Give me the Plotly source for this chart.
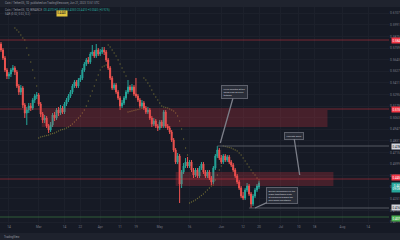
import plotly.graph_objects as go
import pandas as pd

# ---------------- data (daily candles) ----------------
open_ = [0.580,0.574,0.566,0.554,0.548,0.550,0.554,0.556,0.552,0.538,
0.532,0.536,0.519,0.511,0.514,0.518,0.516,0.524,0.528,0.529,
0.520,0.510,0.504,0.506,0.498,0.494,0.499,0.509,0.506,0.514,
0.511,0.516,0.512,0.520,0.524,0.528,0.532,0.538,0.542,0.538,
0.544,0.546,0.554,0.560,0.564,0.562,0.570,0.572,0.568,0.574,
0.570,0.572,0.574,0.572,0.564,0.556,0.546,0.536,0.539,0.532,
0.526,0.518,0.521,0.526,0.532,0.537,0.534,0.537,0.530,0.528,
0.524,0.518,0.521,0.516,0.512,0.514,0.506,0.500,0.503,0.498,
0.496,0.502,0.498,0.512,0.498,0.496,0.492,0.484,0.474,0.462,
0.468,0.440,0.452,0.458,0.462,0.458,0.462,0.454,0.449,0.454,
0.448,0.456,0.460,0.452,0.448,0.452,0.446,0.442,0.456,0.468,
0.474,0.466,0.462,0.468,0.464,0.467,0.462,0.459,0.454,0.448,
0.442,0.436,0.428,0.426,0.434,0.438,0.430,0.420,0.428,0.434,
0.437]
high = [0.582,0.576,0.568,0.556,0.552,0.556,0.559,0.558,0.554,0.540,
0.539,0.538,0.521,0.517,0.521,0.521,0.526,0.530,0.532,0.531,
0.522,0.512,0.509,0.508,0.500,0.502,0.511,0.512,0.516,0.517,
0.519,0.518,0.522,0.526,0.530,0.534,0.540,0.544,0.544,0.546,
0.549,0.556,0.562,0.566,0.567,0.572,0.579,0.574,0.580,0.576,
0.575,0.577,0.577,0.574,0.566,0.558,0.548,0.541,0.541,0.534,
0.528,0.524,0.528,0.534,0.544,0.539,0.540,0.539,0.546,0.530,
0.526,0.524,0.523,0.518,0.517,0.516,0.508,0.506,0.505,0.500,
0.504,0.504,0.514,0.514,0.500,0.498,0.494,0.486,0.476,0.471,
0.470,0.454,0.461,0.466,0.467,0.464,0.464,0.456,0.456,0.456,
0.458,0.462,0.462,0.454,0.454,0.454,0.448,0.458,0.470,0.478,
0.476,0.469,0.470,0.470,0.469,0.469,0.464,0.461,0.456,0.450,
0.444,0.438,0.432,0.436,0.441,0.440,0.432,0.430,0.436,0.440,
0.443]
low = [0.572,0.564,0.552,0.545,0.545,0.547,0.552,0.549,0.536,0.529,
0.529,0.516,0.506,0.499,0.511,0.513,0.514,0.521,0.525,0.518,
0.507,0.501,0.501,0.496,0.491,0.492,0.497,0.503,0.504,0.508,
0.509,0.510,0.510,0.518,0.522,0.526,0.530,0.536,0.536,0.536,
0.542,0.544,0.552,0.558,0.560,0.560,0.568,0.566,0.566,0.568,
0.568,0.570,0.569,0.562,0.554,0.544,0.534,0.534,0.530,0.524,
0.514,0.516,0.519,0.524,0.530,0.532,0.532,0.528,0.526,0.522,
0.516,0.516,0.514,0.510,0.510,0.504,0.497,0.498,0.496,0.493,
0.494,0.496,0.496,0.496,0.494,0.490,0.482,0.472,0.460,0.460,
0.421,0.436,0.450,0.456,0.456,0.456,0.452,0.446,0.447,0.446,
0.446,0.454,0.450,0.446,0.446,0.444,0.439,0.440,0.454,0.466,
0.464,0.460,0.460,0.462,0.462,0.460,0.457,0.452,0.446,0.440,
0.434,0.426,0.424,0.424,0.432,0.428,0.416,0.418,0.426,0.432,
0.435]
close = [0.574,0.566,0.554,0.548,0.550,0.554,0.556,0.552,0.538,0.532,
0.536,0.519,0.511,0.514,0.518,0.516,0.524,0.528,0.529,0.520,
0.510,0.504,0.506,0.498,0.494,0.499,0.509,0.506,0.514,0.511,
0.516,0.512,0.520,0.524,0.528,0.532,0.538,0.542,0.538,0.544,
0.546,0.554,0.560,0.564,0.562,0.570,0.572,0.568,0.574,0.570,
0.572,0.574,0.572,0.564,0.556,0.546,0.536,0.539,0.532,0.526,
0.518,0.521,0.526,0.532,0.537,0.534,0.537,0.530,0.528,0.524,
0.518,0.521,0.516,0.512,0.514,0.506,0.500,0.503,0.498,0.496,
0.502,0.498,0.512,0.498,0.496,0.492,0.484,0.474,0.462,0.468,
0.440,0.452,0.458,0.462,0.458,0.462,0.454,0.449,0.454,0.448,
0.456,0.460,0.452,0.448,0.452,0.446,0.442,0.456,0.468,0.474,
0.466,0.462,0.468,0.464,0.467,0.462,0.459,0.454,0.448,0.442,
0.436,0.428,0.426,0.434,0.438,0.430,0.420,0.428,0.434,0.438,
0.441]
# Parabolic SAR dots
sar = [None]*7 + [0.596,0.594,0.592,0.589,0.586,0.584,0.576,0.569,0.562,0.554,0.546,0.538,
0.486,0.487,0.4875,0.488,0.4885,0.489,0.490,0.4905,0.491,0.492,0.493,0.494,0.4945,0.495,
0.496,0.497,0.4985,0.500,0.502,0.504,0.506,0.508,0.511,0.514,0.518,0.523,0.528,0.533,
0.538,0.544,0.549,0.554,0.557,0.558,0.559,
0.579,0.577,0.574,0.571,0.568,0.564,0.560,0.556,0.552,0.548,
0.512,0.5125,0.513,0.5135,0.514,0.5145,0.515,0.5155,
0.546,0.544,0.541,0.538,0.534,0.530,0.527,0.524,0.521,0.518,0.517,0.5165,0.516,0.515,
0.514,0.513,0.511,0.508,0.503,0.495,0.485,0.476,0.469,
0.421,0.422,0.423,0.424,0.4255,0.427,0.4285,0.430,0.432,0.434,0.436,0.438,0.439,0.444,
0.449,0.454,0.458,
0.478,0.4775,0.477,0.4765,0.476,0.475,0.474,0.473,0.471,0.469,0.466,0.463,0.460,0.457,
0.454,0.451,0.449,0.446,0.444]
dates = pd.date_range("2023-02-10", periods=len(close), freq="D")

# time axis ticks
tick_dates = ["2023-02-14","2023-03-01","2023-03-14","2023-03-22","2023-04-01","2023-04-11",
              "2023-04-19","2023-05-01","2023-05-16","2023-06-01","2023-06-12","2023-06-20",
              "2023-07-01","2023-07-10","2023-07-18","2023-08-01","2023-08-14"]
tick_text = ["14","Mar","14","22","Apr","11","19","May","16","Jun","12","20","Jul","10","18","Aug","14"]

# zones (supply / demand)
zone_starts = ["2023-03-02 12:00", "2023-05-09"]
zone_ends = ["2023-07-24 12:00", "2023-07-27 12:00"]
zone_tops = [0.514, 0.452]
zone_bottoms = [0.497, 0.438]

# full-width horizontal levels
red_levels = [0.584, 0.515, 0.445]
green_level = 0.407
# partial gray levels
gray_starts = ["2023-05-30", "2023-06-15"]
gray_levels = [0.478, 0.416]

# callouts
callout_texts = ["Price rejected at the<br>range high as bulls<br>faltered",
                 "Liquidity zone",
                 "Bullish divergence on the<br>lower timeframe hints<br>at a bounce toward the<br>mid-range resistance"]
callout_box_dates = ["2023-06-07 18:00", "2023-07-07 12:00", "2023-07-01 18:00"]
callout_box_prices = [0.532, 0.4885, 0.4285]
callout_tip_dates = ["2023-05-31 12:00", "2023-07-10 12:00", "2023-06-18"]
callout_tip_prices = [0.481, 0.449, 0.416]

x_start, x_end = "2023-02-09 12:00", "2023-08-24 12:00"
y_min, y_max = 0.400, 0.617

# ---------------- styles ----------------
BG = "#161a25"
UP = "#26a69a"
DN = "#ef5350"
RED = "#f23645"

fig = go.Figure()
fig.add_trace(go.Candlestick(
    x=dates, open=open_, high=high, low=low, close=close,
    increasing=dict(line=dict(color=UP, width=1), fillcolor=UP),
    decreasing=dict(line=dict(color=DN, width=1), fillcolor=DN),
    whiskerwidth=0, showlegend=False, hoverinfo="skip"))
fig.add_trace(go.Scatter(
    x=dates, y=sar, mode="markers",
    marker=dict(size=1.3, color="rgba(160,152,60,0.6)"),
    showlegend=False, hoverinfo="skip"))

shapes = []
for xs, xe, yt, yb in zip(zone_starts, zone_ends, zone_tops, zone_bottoms):
    shapes.append(dict(type="rect", xref="x", yref="y", x0=xs, x1=xe, y0=yb, y1=yt,
                       fillcolor="rgba(242,54,69,0.22)", line=dict(width=0), layer="above"))
for lv in red_levels:
    shapes.append(dict(type="line", xref="paper", yref="y", x0=0, x1=1, y0=lv, y1=lv,
                       line=dict(color="rgba(242,54,69,0.45)", width=1)))
shapes.append(dict(type="line", xref="paper", yref="y", x0=0, x1=1, y0=green_level, y1=green_level,
                   line=dict(color="rgba(76,175,80,0.45)", width=1)))
for xs, lv in zip(gray_starts, gray_levels):
    shapes.append(dict(type="line", xref="x", yref="y", x0=xs, x1=x_end, y0=lv, y1=lv,
                       line=dict(color="#555862", width=1)))
# top header strip and bottom strip
shapes.append(dict(type="rect", xref="paper", yref="paper", x0=0, x1=1.03, y0=1.0, y1=1.04,
                   fillcolor="#1f232e", line=dict(width=0), layer="above"))
shapes.append(dict(type="rect", xref="paper", yref="paper", x0=0, x1=1.03, y0=-0.08, y1=-0.0415,
                   fillcolor="#1e222d", line=dict(width=0)))

annotations = []
for t, bx, by, tx, ty in zip(callout_texts, callout_box_dates, callout_box_prices,
                             callout_tip_dates, callout_tip_prices):
    annotations.append(dict(x=tx, y=ty, xref="x", yref="y", ax=bx, ay=by, axref="x", ayref="y",
                            text=t, showarrow=True, arrowhead=0, arrowwidth=1.3, arrowcolor="#7c7f89",
                            standoff=0, startstandoff=0, align="left",
                            font=dict(family="Roboto", size=2.4, color="#d1d4dc"),
                            bgcolor="#2a2e39", bordercolor="#5d606b", borderwidth=1, borderpad=1.5))

# right price labels
label_prices = [0.584, 0.515, 0.478, 0.445, 0.441, 0.416, 0.407]
label_bg = [RED, RED, "#d1d4dc", RED, UP, "#d1d4dc", "#4caf50"]
label_fg = ["white", "white", "#131722", "white", "white", "#131722", "white"]
label_shift = [0, 0, 0, 2, -4, 1, -1]
for p, bg, fg, sh in zip(label_prices, label_bg, label_fg, label_shift):
    txt = f"{p:.4f}" if bg != UP else f"{p:.4f}<br>09:08:12"
    annotations.append(dict(x=1, xref="paper", y=p, yref="y", xanchor="left", xshift=2, yshift=sh,
                            text=txt, showarrow=False, bgcolor=bg, borderpad=0.5,
                            font=dict(family="Roboto", size=3.0, color=fg)))

# header texts
hdr_font = dict(family="Roboto", size=2.8, color="#9598a1")
annotations.append(dict(x=0.008, y=1.02, xref="paper", yref="paper", xanchor="left", yanchor="middle",
                        showarrow=False, text="Coin / TetherUS, 1D  published on TradingView.com, Jun 21, 2023 13:51 UTC",
                        font=hdr_font))
annotations.append(dict(x=0.008, y=0.986, xref="paper", yref="paper", xanchor="left", yanchor="middle",
                        showarrow=False,
                        text="Coin / TetherUS, 1D, BINANCE  <span style='color:#26a69a'>O0.4370 H0.4430 L0.4350 C0.4410 +0.0040 (+0.92%)</span>",
                        font=hdr_font))
annotations.append(dict(x=0.008, y=0.969, xref="paper", yref="paper", xanchor="left", yanchor="middle",
                        showarrow=False, text="SAR (0.02, 0.02, 0.2)", font=hdr_font))
annotations.append(dict(x=0.145, y=0.969, xref="paper", yref="paper", xanchor="left", yanchor="middle",
                        showarrow=False, text="0.4440", bgcolor="#e2c33e", borderpad=0.3,
                        font=dict(family="Roboto", size=2.8, color="#131722")))
annotations.append(dict(x=0.004, y=-0.058, xref="paper", yref="paper", xanchor="left", yanchor="middle",
                        showarrow=False, text="TradingView", font=dict(family="Roboto", size=2.8, color="#9598a1")))

fig.update_layout(
    width=400, height=240, margin=dict(l=0, r=8, t=7, b=16),
    paper_bgcolor=BG, plot_bgcolor=BG,
    shapes=shapes, annotations=annotations, showlegend=False,
    xaxis=dict(type="date", range=[x_start, x_end], rangeslider=dict(visible=False),
               tickvals=tick_dates, ticktext=tick_text, tickfont=dict(family="Roboto", size=3.2, color="#787b86"),
               showgrid=True, gridcolor="#1c202b", gridwidth=1, zeroline=False, showline=False, ticks=""),
    yaxis=dict(side="right", range=[y_min, y_max], dtick=0.0116, tick0=0.6107, tickformat=".4f",
               tickfont=dict(family="Roboto", size=3.2, color="#787b86"),
               showgrid=True, gridcolor="#1c202b", gridwidth=1, zeroline=False, showline=False, ticks=""),
)

fig.write_html("out.html")
